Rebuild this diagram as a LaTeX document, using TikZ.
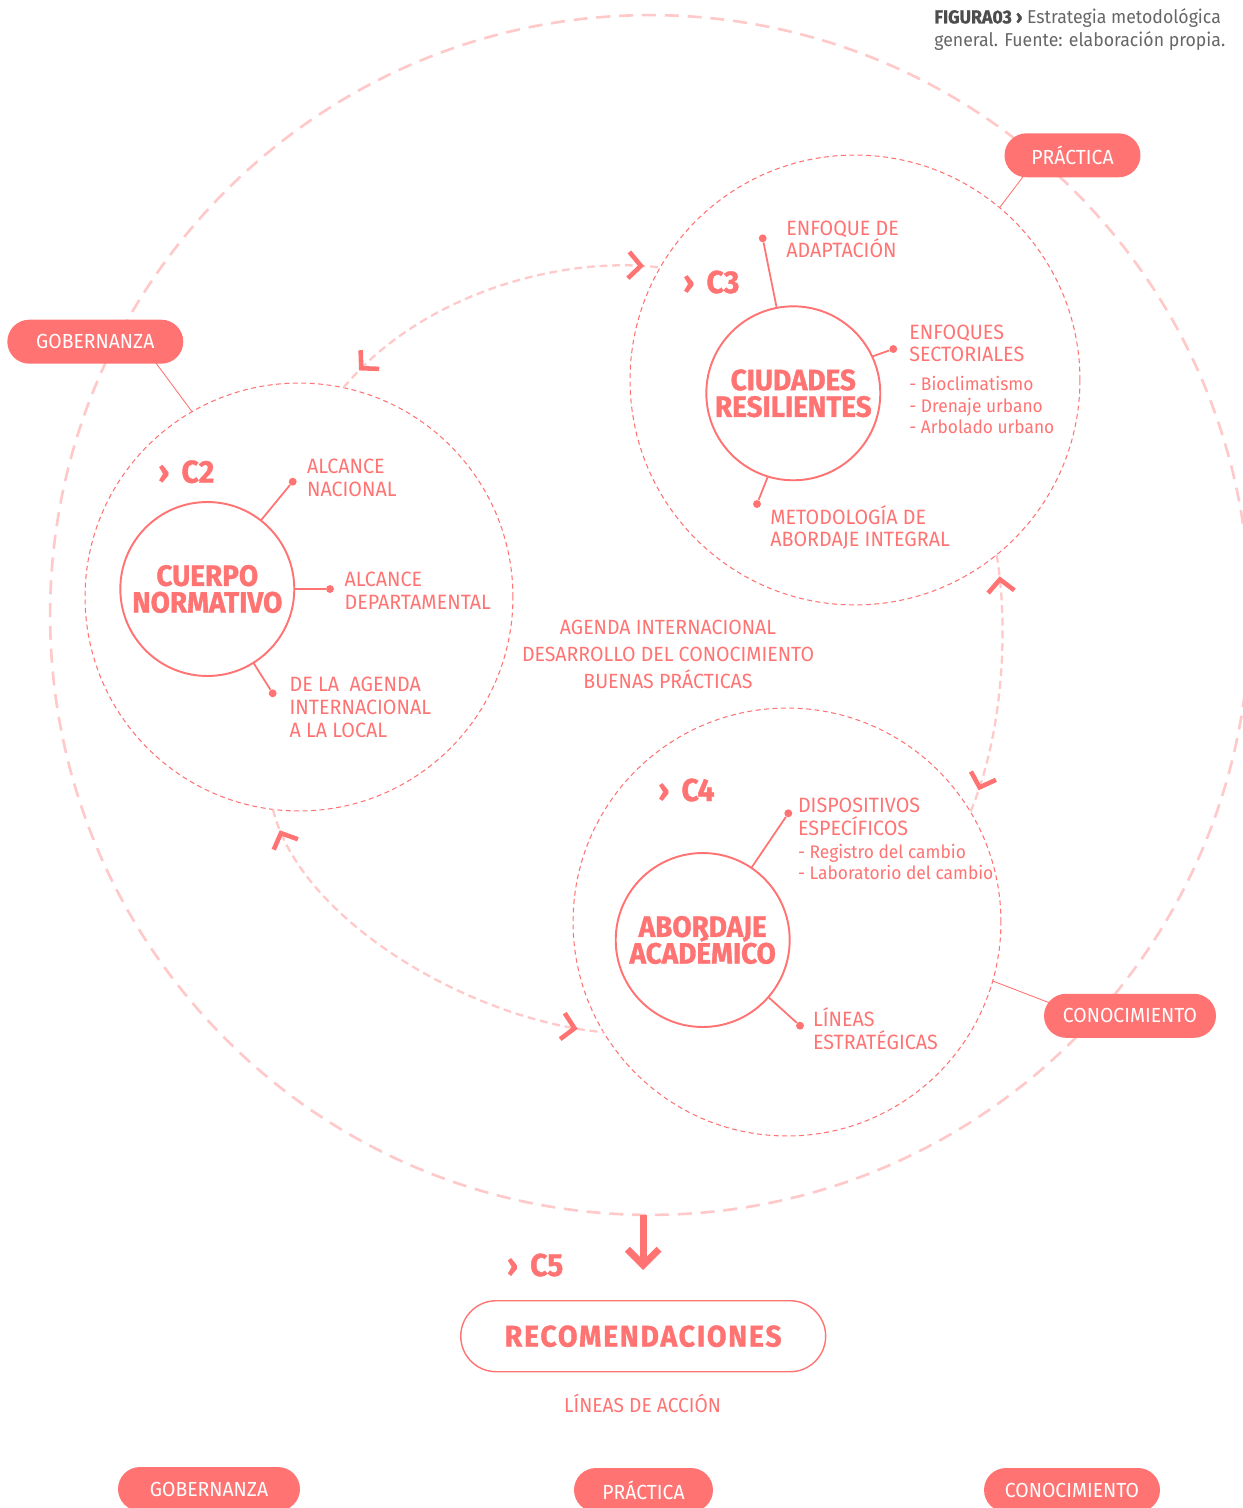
\documentclass[tikz,border=0pt]{standalone}
\usepackage{fontspec}
\setmainfont{Fira Sans}[FakeStretch=0.95,BoldFeatures={FakeBold=1.2}]
\newfontfamily\recfont{Fira Sans}[FakeStretch=0.95,LetterSpace=6,BoldFeatures={FakeBold=1.2}]
\usetikzlibrary{arrows.meta,decorations.markings}

\definecolor{accent}{HTML}{FF7373}
\definecolor{soft}{HTML}{FFC9C9}
\definecolor{titlegray}{HTML}{4D4D4D}
\definecolor{notegray}{HTML}{666666}

\newcommand\corefont{\fontsize{16.7}{15.2}\selectfont\bfseries\lineskiplimit=-20pt\relax}

\tikzset{
  halo/.style={circle, draw=soft, line width=1.5pt, dash pattern=on 8pt off 5pt, inner sep=0pt, outer sep=0pt, minimum size=24cm},
  ring/.style={circle, draw=accent, line width=0.6pt, dash pattern=on 2.8pt off 2pt, inner sep=0pt, outer sep=0pt, minimum size=#1},
  core/.style={circle, draw=accent, line width=1.1pt, inner sep=0pt, outer sep=0pt, minimum size=3.48cm, text=accent, align=center, font=\corefont},
  dot/.style={circle, fill=accent, inner sep=0pt, minimum size=4.5pt},
  spoke/.style={draw=accent, line width=1pt},
  lbl/.style={anchor=base west, inner sep=0pt, text=accent, align=left, font=\fontsize{11.8}{12.9}\selectfont},
  sublbl/.style={lbl, font=\fontsize{10.4}{12.1}\selectfont},
  mid/.style={anchor=base, inner sep=0pt, text=accent, align=center, font=\fontsize{11.7}{15.3}\selectfont},
  tag/.style={anchor=base west, inner sep=0pt, text=accent, font=\fontsize{18}{18}\selectfont\bfseries},
  pill/.style={fill=accent, rounded corners=0.44cm, minimum height=0.88cm, inner sep=0pt, text=white, font=\fontsize{11.6}{12}\selectfont},
  tie/.style={draw=accent, line width=0.5pt, shorten <=-0.2cm},
  link/.style={draw=soft, line width=1.3pt, dash pattern=on 4.5pt off 2.7pt},
  chev/.style={draw=accent, line width=2.6pt, solid},
  chevs/.style 2 args={postaction={decorate, decoration={markings,
      mark=at position #1 with {\draw[chev] (7pt,7.5pt) -- (0,0) -- (7pt,-7.5pt);},
      mark=at position #2 with {\draw[chev] (-7pt,7.5pt) -- (0,0) -- (-7pt,-7.5pt);}}}},
  drop/.style={draw=accent, line width=4pt, -{Straight Barb[length=9pt,width=18pt]}, shorten >=0.6cm},
}

\begin{document}
\begin{tikzpicture}[x=0.02cm, y=-0.02cm]
  \useasboundingbox (0,0) rectangle (1243,1508);
  \clip (0,0) rectangle (1243,1508);

  % outer loop and the three fields
  \node[halo] (outer) at (650,615) {};
  \node[ring=9cm] (c3) at (855,380) {};
  \node[ring=8.56cm] (c2) at (299,597) {};
  \node[ring=8.56cm] (c4) at (787,922) {};

  % links between fields
  \draw[link, chevs={0.075}{0.945}] (c2.78) .. controls (420,295) and (560,255) .. (c3.150);
  \draw[link, chevs={0.095}{0.9}] (c3.-51) .. controls (1008,620) and (1005,730) .. (c4.31);
  \draw[link, chevs={0.06}{0.93}] (c2.-97) .. controls (300,920) and (470,1020) .. (c4.211);

  % C3 (label nodes sit on their last baseline)
  \node[tag] (k3) at (683,293) {› \,C3};
  \node[core] (cr) at (793.3,393.3) {CIUDADES\\RESILIENTES};
  \node[dot] (d31) at (762.7,238.3) {};
  \node[dot] (d32) at (893.3,349) {};
  \node[dot] (d33) at (757,504) {};
  \draw[spoke] (cr.101) -- (d31);
  \draw[spoke] (cr.25) -- (d32);
  \draw[spoke] (cr.-107.6) -- (d33);
  \node[lbl] (t31) at (786,257.7) {ENFOQUE DE\\ADAPTACIÓN};
  \node[lbl] (t32) at (909,361.7) {ENFOQUES\\SECTORIALES};
  \node[sublbl] (s32) at (909,433.3) {- Bioclimatismo\\- Drenaje urbano\\- Arbolado urbano};
  \node[lbl] (t33) at (770,546.7) {METODOLOGÍA DE\\ABORDAJE INTEGRAL};

  % C2
  \node[tag] (k2) at (158,482.7) {› \,C2};
  \node[core] (cn) at (207.3,589) {CUERPO\\NORMATIVO};
  \node[dot] (d21) at (292.7,481.7) {};
  \node[dot] (d22) at (330,589) {};
  \node[dot] (d23) at (272.7,693.3) {};
  \draw[spoke] (cn.52) -- (d21);
  \draw[spoke] (cn.0) -- (d22);
  \draw[spoke] (cn.-58.8) -- (d23);
  \node[lbl] (t21) at (306.7,496) {ALCANCE\\NACIONAL};
  \node[lbl] (t22) at (344.3,609.4) {ALCANCE\\DEPARTAMENTAL};
  \node[lbl] (t23) at (289.3,737.1) {DE LA\ \ AGENDA\\INTERNACIONAL\\A LA LOCAL};

  % C4
  \node[tag] (k4) at (658,801) {› \,C4};
  \node[core] (ca) at (702.7,940) {ABORDAJE\\ACADÉMICO};
  \node[dot] (d41) at (788.3,813.3) {};
  \node[dot] (d42) at (800,1025.7) {};
  \draw[spoke] (ca.56.6) -- (d41);
  \draw[spoke] (ca.-41.3) -- (d42);
  \node[lbl] (t41) at (797.7,835) {DISPOSITIVOS\\ESPECÍFICOS};
  \node[sublbl] (s41) at (797.7,879.6) {- Registro del cambio\\- Laboratorio del cambio};
  \node[lbl] (t42) at (812.7,1049.4) {LÍNEAS\\ESTRATÉGICAS};

  \node[mid] (agenda) at (668,688) {AGENDA INTERNACIONAL\\DESARROLLO DEL CONOCIMIENTO\\BUENAS PRÁCTICAS};

  % axes
  \node[pill, minimum width=3.52cm] (gob) at (95.3,341.7) {GOBERNANZA};
  \node[pill, minimum width=2.72cm] (prac) at (1072.5,155.3) {PRÁCTICA};
  \node[pill, minimum width=3.44cm] (cono) at (1130,1015.8) {CONOCIMIENTO};
  \draw[tie] (gob.-20) -- (c2.120);
  \draw[tie] (prac.-156) -- (c3.50);
  \draw[tie] (cono.170) -- (c4.-16);

  % C5
  \node[tag] (k5) at (506.7,1276) {› \,C5};
  \node[draw=accent, line width=0.8pt, rounded corners=0.71cm, minimum width=7.3cm, minimum height=1.42cm, inner sep=0pt, text=accent, font=\recfont\fontsize{17}{17}\selectfont\bfseries] (rec) at (643.2,1336.2) {RECOMENDACIONES};
  \draw[drop] (rec |- outer.south) -- (rec.north);
  \node[mid, font=\fontsize{11.5}{12}\selectfont] (acc) at (642.5,1412.7) {LÍNEAS DE ACCIÓN};
  \node[pill, minimum width=3.64cm] (gob2) at (209,1489) {GOBERNANZA};
  \node[pill, minimum width=2.78cm] (prac2) at (643.5,1490) {PRÁCTICA};
  \node[pill, minimum width=3.52cm] (cono2) at (1072,1490) {CONOCIMIENTO};

  \node[anchor=base west, align=left, inner sep=0pt, text=notegray, font=\fontsize{10.6}{12.9}\selectfont] (fig) at (934,46) {\textcolor{titlegray}{\bfseries FIGURA03 ›} Estrategia metodológica\\general. Fuente: elaboración propia.};
\end{tikzpicture}
\end{document}
